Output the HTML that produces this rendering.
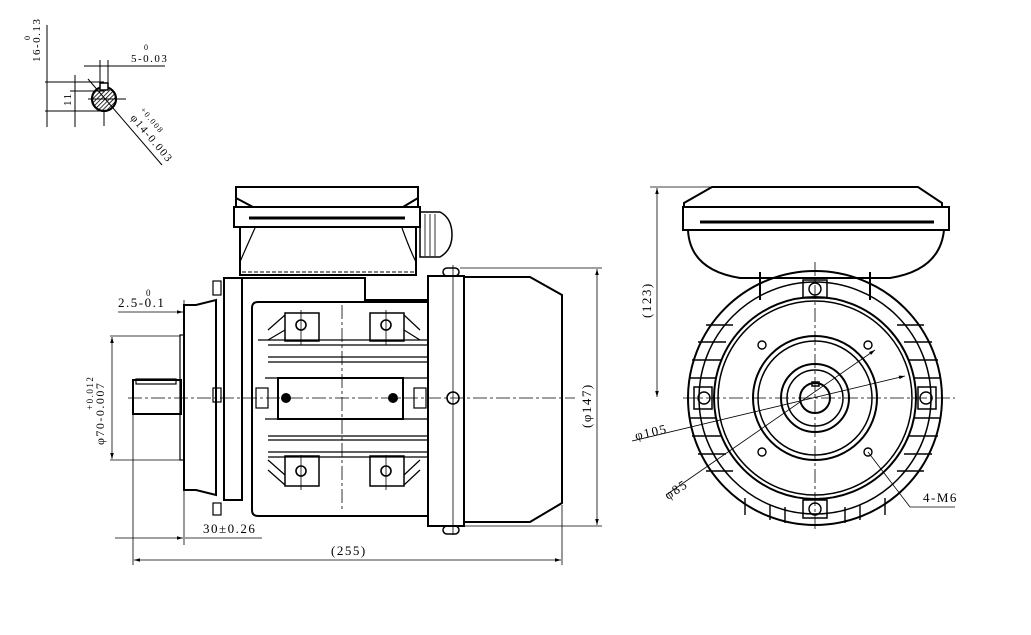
<!DOCTYPE html>
<html><head><style>
html,body{margin:0;padding:0;background:#fff;}
svg{display:block;}
text{font-family:"Liberation Serif",serif;fill:#000;letter-spacing:1.5px;}
</style></head><body>
<svg width="1031" height="635" viewBox="0 0 1031 635" xmlns="http://www.w3.org/2000/svg">
<defs>
<pattern id="h" width="3" height="3" patternUnits="userSpaceOnUse" patternTransform="rotate(45)"><line x1="0" y1="0" x2="0" y2="3" stroke="#000" stroke-width="1.6"/></pattern>
<marker id="a" viewBox="0 0 10 10" refX="10" refY="5" markerWidth="8" markerHeight="6" orient="auto-start-reverse" markerUnits="userSpaceOnUse"><path d="M0 2 L10 5 L0 8 Z" fill="#000"/></marker>
</defs>
<g fill="none" stroke="#000" stroke-width="1">
<circle cx="104" cy="99" r="12" fill="url(#h)" stroke-width="2.2"/>
<rect x="100" y="83" width="8" height="7" fill="#fff" stroke-width="1.5"/>
<line x1="45" y1="82" x2="104" y2="82"/><line x1="45" y1="111" x2="104" y2="111"/>
<line x1="70" y1="91" x2="104" y2="91"/>
<line x1="47" y1="25" x2="47" y2="127"/><line x1="75" y1="75" x2="75" y2="127"/>
<line x1="84" y1="66" x2="165" y2="66"/><line x1="100" y1="60" x2="100" y2="83"/><line x1="108" y1="60" x2="108" y2="83"/>
<line x1="88" y1="79" x2="162" y2="165"/>
<line x1="88" y1="99" x2="126" y2="99"/><line x1="104" y1="112" x2="104" y2="126"/>
</g>
<text font-size="11" transform="translate(40,62) rotate(-90)">16-0.13</text>
<text font-size="8" transform="translate(30,40) rotate(-90)">0</text>
<text x="131" y="62" font-size="11">5-0.03</text><text x="144" y="50" font-size="8">0</text>
<text font-size="11" transform="translate(71,106) rotate(-90)">11</text>
<text font-size="11" transform="translate(130,118) rotate(50)">φ14-0.003</text>
<text font-size="8" transform="translate(140,110) rotate(50)">+0.008</text>

<g fill="none" stroke="#000" stroke-width="2">
<path d="M236 187 H418 V207 H236 Z"/>
<path d="M236 198 L253 207 M418 198 L403 207"/>
<rect x="234" y="207" width="186" height="20"/>
<path d="M249 218 H405" stroke-width="3"/>
<path d="M240 227 V275 H416 V227"/>
<path d="M255 228 Q245 250 240 262 M402 228 Q410 250 416 262" stroke-width="1.2"/>
<line x1="242" y1="272" x2="414" y2="272" stroke-dasharray="4 2" stroke-width="1"/>
<path d="M420 212 H440 Q452 218 452 235 Q452 250 440 257 H420 Z" stroke-width="1.5"/>
<path d="M425 214 V256 M430 214 V256 M435 214 V256" stroke-width="0.8"/>
<rect x="224" y="278" width="18" height="222"/>
<rect x="213" y="281" width="8" height="14" stroke-width="1.2"/>
<rect x="213" y="388" width="8" height="14" stroke-width="1.2"/>
<rect x="213" y="503" width="8" height="12" stroke-width="1.2"/>
<path d="M242 278 H365 V300 H428"/>
<path d="M184 305 H196 L216 300 V495 L196 490 H184 Z"/>
<rect x="180" y="335" width="4" height="125" stroke-width="1.2"/>
<rect x="133" y="380" width="48" height="34"/>
<rect x="136" y="379" width="40" height="5" stroke-width="1.2"/>
<path d="M252 308 Q252 302 258 302 H428 V516 H258 Q252 516 252 510 Z"/>
<path d="M258 340 H428 M268 345 H428 M268 357 H428 M268 362 H428 M268 436 H428 M268 440 H428 M268 452 H428 M268 457 H428" stroke-width="1.2"/>
<rect x="278" y="378" width="125" height="41" stroke-width="2"/>
<path d="M265 378 H278 M265 419 H278 M403 378 H428 M403 419 H428" stroke-width="1.2"/>
<rect x="285" y="313" width="34" height="28" stroke-width="1.5"/>
<rect x="370" y="313" width="34" height="28" stroke-width="1.5"/>
<rect x="285" y="456" width="34" height="30" stroke-width="1.5"/>
<rect x="370" y="456" width="34" height="30" stroke-width="1.5"/>
<path d="M268 330 L285 315 M268 340 L285 330 M420 330 L404 315 M420 340 L404 330 M268 470 L285 485 M268 460 L285 475 M420 470 L404 485 M420 460 L404 475" stroke-width="1.2"/>
<rect x="428" y="276" width="36" height="250"/>
<path d="M464 277 H530 L562 295 V503 L530 522 H464"/>
<rect x="443" y="268" width="16" height="8" rx="4" stroke-width="1.5"/>
<rect x="443" y="526" width="16" height="8" rx="4" stroke-width="1.5"/>
</g>
<g fill="none" stroke="#000" stroke-width="1.6">
<circle cx="301" cy="325" r="5"/><circle cx="386" cy="325" r="5"/>
<circle cx="301" cy="471" r="5"/><circle cx="386" cy="471" r="5"/>
<circle cx="453" cy="398" r="6"/>
<rect x="256" y="388" width="12" height="20" stroke-width="1.2"/><rect x="414" y="388" width="12" height="20" stroke-width="1.2"/>
</g>
<circle cx="286" cy="398" r="5" fill="#000"/><circle cx="393" cy="398" r="5" fill="#000"/>
<g stroke="#000" stroke-width="0.8" fill="none">
<line x1="128" y1="398" x2="575" y2="398" stroke-dasharray="14 3 3 3"/>
<line x1="342" y1="305" x2="342" y2="510" stroke-dasharray="14 3 3 3"/>
<line x1="301" y1="310" x2="301" y2="345"/><line x1="386" y1="310" x2="386" y2="345"/>
<line x1="301" y1="455" x2="301" y2="490"/><line x1="386" y1="455" x2="386" y2="490"/>
<line x1="453" y1="265" x2="453" y2="535"/>
<line x1="110" y1="336" x2="180" y2="336"/><line x1="110" y1="460" x2="180" y2="460"/>
<line x1="112" y1="337" x2="112" y2="459" marker-start="url(#a)" marker-end="url(#a)"/>
<line x1="118" y1="312" x2="183" y2="312" marker-end="url(#a)"/>
<line x1="184" y1="300" x2="184" y2="545"/>
<line x1="133" y1="415" x2="133" y2="565"/>
<line x1="115" y1="538" x2="183" y2="538" marker-end="url(#a)"/><line x1="185" y1="538" x2="262" y2="538"/>
<line x1="134" y1="560" x2="561" y2="560" marker-start="url(#a)" marker-end="url(#a)"/>
<line x1="562" y1="505" x2="562" y2="565"/>
<line x1="460" y1="268" x2="602" y2="268"/><line x1="460" y1="526" x2="602" y2="526"/>
<line x1="597" y1="269" x2="597" y2="525" marker-start="url(#a)" marker-end="url(#a)"/>
</g>
<text x="118" y="307" font-size="13">2.5-0.1</text><text x="146" y="296" font-size="9">0</text>
<text font-size="12" transform="translate(104,445) rotate(-90)">φ70-0.007</text>
<text font-size="9" transform="translate(93,410) rotate(-90)">+0.012</text>
<text x="203" y="533" font-size="13">30±0.26</text>
<text x="331" y="555" font-size="13">(255)</text>
<text font-size="13" transform="translate(591,428) rotate(-90)">(φ147)</text>

<g fill="none" stroke="#000" stroke-width="2">
<path d="M712 187 H918 L942 203 V207 H684 V203 Z"/>
<rect x="683" y="207" width="266" height="23"/>
<path d="M700 222 H934" stroke-width="3"/>
<path d="M688 230 Q690 270 740 278 H890 Q940 270 944 230"/>
<path d="M760 272 V300 M870 272 V300"/>
<circle cx="815" cy="398" r="127"/>
<circle cx="815" cy="398" r="116" stroke-width="1.5"/>
<circle cx="815" cy="398" r="101"/>
<circle cx="815" cy="398" r="97" stroke-width="1.5"/>
<circle cx="815" cy="398" r="62"/>
<circle cx="815" cy="398" r="57" stroke-width="1.5"/>
<circle cx="815" cy="398" r="34"/>
<circle cx="815" cy="398" r="28" stroke-width="1.5"/>
<circle cx="815" cy="398" r="15"/>
<rect x="812" y="382" width="7" height="4" stroke-width="1.5"/>
<rect x="803" y="280" width="24" height="18" stroke-width="1.5"/>
<rect x="803" y="500" width="24" height="18" stroke-width="1.5"/>
<rect x="694" y="387" width="18" height="22" stroke-width="1.5"/>
<rect x="918" y="387" width="18" height="22" stroke-width="1.5"/>
</g>
<g fill="none" stroke="#000" stroke-width="1.4">
<path d="M706 325 H733 M698 342 H726 M692 360 H722 M690 378 H716 M690 418 H716 M692 436 H722 M698 454 H726 M706 471 H733 M924 325 H897 M932 342 H904 M938 360 H908 M940 378 H914 M940 418 H914 M938 436 H908 M932 454 H904 M924 471 H897"/>
<path d="M745 498 V515 M770 505 V520 M785 507 V523 M845 507 V523 M860 505 V520 M885 498 V515"/>
<circle cx="815" cy="289" r="6"/><circle cx="815" cy="509" r="6"/>
<circle cx="704" cy="398" r="6"/><circle cx="926" cy="398" r="6"/>
<circle cx="762" cy="345" r="4"/><circle cx="868" cy="345" r="4"/>
<circle cx="762" cy="452" r="4"/><circle cx="868" cy="452" r="4"/>
</g>
<g stroke="#000" stroke-width="0.8" fill="none">
<line x1="683" y1="398" x2="955" y2="398" stroke-dasharray="14 3 3 3"/>
<line x1="815" y1="262" x2="815" y2="530" stroke-dasharray="14 3 3 3"/>
<line x1="650" y1="187" x2="715" y2="187"/>
<line x1="657" y1="188" x2="657" y2="397" marker-start="url(#a)" marker-end="url(#a)"/>
<line x1="632" y1="441" x2="905" y2="376" marker-end="url(#a)"/>
<line x1="666" y1="495" x2="875" y2="350" marker-end="url(#a)"/>
<line x1="868" y1="452" x2="910" y2="507"/><line x1="910" y1="507" x2="955" y2="507"/>
</g>
<text font-size="13" transform="translate(651,318) rotate(-90)">(123)</text>
<text font-size="13" transform="translate(636,440) rotate(-13)">φ105</text>
<text font-size="13" transform="translate(668,500) rotate(-33)">φ85</text>
<text x="923" y="502" font-size="13">4-M6</text>
</svg>
</body></html>
